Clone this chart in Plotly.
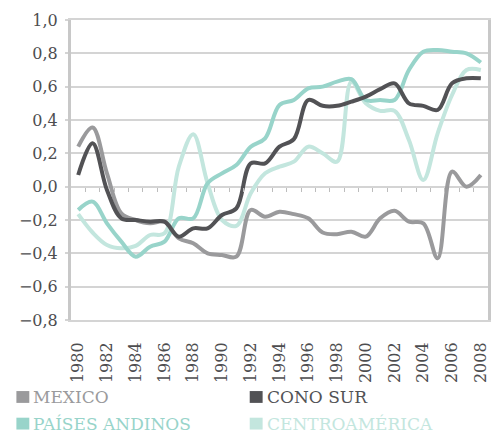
import plotly.graph_objects as go

# Annual index values, 1980-2008
years = list(range(1980, 2009))
mexico = [0.24, 0.355, 0.08, -0.16, -0.20, -0.22, -0.21, -0.31, -0.34, -0.40,
          -0.41, -0.42, -0.14, -0.18, -0.15, -0.165, -0.19, -0.275, -0.285, -0.27,
          -0.30, -0.19, -0.145, -0.21, -0.22, -0.43, 0.09, 0.0, 0.07]
cono_sur = [0.07, 0.26, -0.02, -0.19, -0.20, -0.21, -0.21, -0.30, -0.25, -0.25,
            -0.17, -0.13, 0.14, 0.14, 0.24, 0.285, 0.52, 0.485, 0.485, 0.51,
            0.54, 0.585, 0.62, 0.50, 0.485, 0.46, 0.62, 0.65, 0.65]
andinos = [-0.14, -0.09, -0.22, -0.33, -0.42, -0.36, -0.33, -0.19, -0.19, 0.02,
           0.08, 0.13, 0.24, 0.29, 0.49, 0.52, 0.59, 0.60, 0.63, 0.645,
           0.52, 0.52, 0.52, 0.70, 0.81, 0.82, 0.81, 0.80, 0.745]
centro = [-0.165, -0.275, -0.35, -0.37, -0.355, -0.29, -0.28, 0.12, 0.315, 0.02,
          -0.20, -0.235, -0.04, 0.08, 0.12, 0.15, 0.24, 0.20, 0.15, 0.63,
          0.50, 0.455, 0.455, 0.28, 0.04, 0.32, 0.55, 0.70, 0.70]

names = ["MEXICO", "CONO SUR", "PAÍSES ANDINOS", "CENTROAMÉRICA"]
colors = ["#9a9a9c", "#525255", "#98d4ca", "#c3e6de"]
series = [mexico, cono_sur, andinos, centro]

y_ticks = [-0.8, -0.6, -0.4, -0.2, 0.0, 0.2, 0.4, 0.6, 0.8, 1.0]
x_ticks = list(range(1980, 2009, 2))

FONT = "DejaVu Serif"
GRID = "#d4d4d4"
TEXT = "#4d4d4f"

fig = go.Figure()

# draw order: lightest series underneath
for i in [3, 2, 0, 1]:
    fig.add_trace(go.Scatter(
        x=years, y=series[i], mode="lines", name=names[i],
        line=dict(color=colors[i], width=4, shape="spline", smoothing=1.0),
        showlegend=False, hoverinfo="x+y+name",
    ))

# helper trace that carries the axis crossing at zero
fig.add_trace(go.Scatter(x=years, y=[None] * len(years), xaxis="x2",
                         showlegend=False, hoverinfo="skip"))

fig.update_layout(
    width=502, height=434,
    margin=dict(l=71, r=11, t=16, b=114),
    paper_bgcolor="white", plot_bgcolor="white",
    separators=", ",
    font=dict(family=FONT, color=TEXT, size=16),
    xaxis=dict(
        range=[1979.5, 2008.5], tickmode="array", tickvals=x_ticks,
        ticktext=[str(v) for v in x_ticks], tickangle=-90,
        ticks="", ticklabelstandoff=14, showgrid=False, zeroline=False,
        showline=True, linecolor=GRID, linewidth=2, mirror=True,
        tickfont=dict(family=FONT, size=16, color=TEXT),
    ),
    xaxis2=dict(
        overlaying="x", anchor="free", position=0.8 / 1.8,
        range=[1979.5, 2008.5], tickmode="array",
        tickvals=[y + 0.5 for y in years[:-1]],
        ticks="outside", ticklen=4, tickwidth=1, tickcolor="#bdbdbd",
        showticklabels=False, showgrid=False, zeroline=False, showline=False,
    ),
    yaxis=dict(
        range=[-0.8, 1.0], tickmode="array", tickvals=y_ticks,
        tickformat=".1f", ticks="outside", ticklen=3, tickwidth=2,
        tickcolor=GRID, ticklabelstandoff=4,
        showgrid=True, gridcolor=GRID, gridwidth=2,
        zeroline=True, zerolinecolor=GRID, zerolinewidth=2,
        showline=True, linecolor="#c8c8c8", linewidth=3, mirror=True,
        tickfont=dict(family=FONT, size=16, color=TEXT),
    ),
)

# legend: coloured squares with matching coloured labels, two columns
leg_pos = [(16, 392), (251, 392), (16, 419), (251, 419)]
for (px, py), name, col in zip(leg_pos, names, colors):
    x0 = (px - 71) / 420
    fig.add_shape(type="rect", xref="paper", yref="paper",
                  x0=x0, x1=x0 + 13 / 420,
                  y0=(320 - py - 12) / 304, y1=(320 - py) / 304,
                  fillcolor=col, line=dict(width=0))
    fig.add_annotation(text=name, xref="paper", yref="paper",
                       x=x0 + 16 / 420, y=(320 - py - 6) / 304,
                       xanchor="left", yanchor="middle", showarrow=False,
                       borderpad=0,
                       font=dict(family=FONT, size=17, color=col))

fig.write_html("out.html")
